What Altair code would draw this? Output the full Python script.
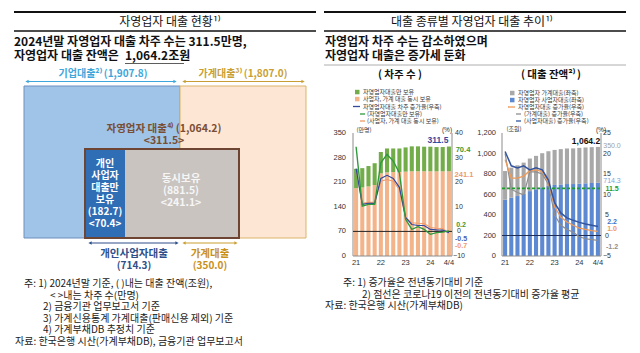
import altair as alt
import pandas as pd

FONT = "Noto Sans CJK KR"
NFONT = "Liberation Sans"

# ---------------- data ----------------
quarters = ["21Q1", "21Q2", "21Q3", "21Q4", "22Q1", "22Q2", "22Q3", "22Q4",
            "23Q1", "23Q2", "23Q3", "23Q4", "24Q1", "24Q2", "24Q3", "24Q4"]
x_tick_quarters = ["21Q1", "22Q1", "23Q1", "24Q1", "24Q4"]
x_tick_labels = ["21", "22", "23", "24", "4/4"]

# borrowers (만명)
borrowers_both = [193, 195, 198, 202, 235, 238, 239, 239, 240, 241, 241, 241, 241, 241, 241, 241.1]
borrowers_only = [55, 55, 58, 62, 61, 68, 67, 67, 69, 71, 71, 70, 70, 69, 69, 70.4]
# borrower growth (%, yoy)
g_borrowers_total = [25.5, 11.0, 11.4, 11.4, 21.5, 22.8, 21.5, 17.9, 5.7, 2.8, 2.4, 2.4, 0.8, 0.6, 0.5, -0.5]
g_borrowers_only = [34.4, 10.3, 11.0, 11.0, 27.9, 31.3, 28.6, 23.8, 4.9, 0.8, 1.9, 0.8, -1.2, -0.5, -0.3, 0.2]
g_borrowers_both = [25.0, 11.4, 11.8, 11.8, 20.4, 21.1, 20.4, 17.0, 5.5, 3.5, 3.3, 3.2, 1.6, 1.3, 1.2, -0.7]

# loans (조원)
loans_biz = [549, 570, 585, 605, 633, 651, 670, 684, 693, 698, 702, 702, 706, 709, 712, 714.3]
loans_hh = [280, 292, 300, 306, 318, 326, 333, 338, 342, 345, 347, 348, 349, 350, 350, 350.0]
g_loans_total = [18.5, 14.0, 14.0, 14.5, 15.8, 16.0, 15.6, 13.0, 7.0, 4.5, 3.3, 2.5, 1.8, 1.5, 1.2, 1.0]
g_loans_biz = [20.5, 17.0, 16.5, 17.0, 16.0, 16.5, 16.0, 13.5, 8.0, 5.5, 4.3, 3.7, 3.2, 2.8, 2.5, 2.2]
g_loans_hh = [20.0, 11.3, 10.5, 9.9, 15.5, 15.5, 15.0, 12.5, 5.0, 2.5, 1.5, 0.8, -0.3, -0.8, -1.0, -1.2]
pre_covid_avg = [11.5]

left_y_ticks = [0, 70, 140, 210, 280, 350]
left_y2_ticks = [-10, 0, 10, 20, 30, 40]
right_y_ticks = [0, 200, 400, 600, 800, 1000, 1200]
right_y2_ticks = [-5, 0, 5, 10, 15, 20, 25]

# ---------------- helpers ----------------
layers = []


def df1(**kw):
    return pd.DataFrame({k: [v] for k, v in kw.items()})


def text(s, x, y, size=10, color="#222222", weight="normal", align="left", font=FONT):
    layers.append(
        alt.Chart(df1(t=s)).mark_text(align=align, baseline="middle", fontSize=size,
                                      fontWeight=weight, color=color, font=font)
        .encode(x=alt.value(x), y=alt.value(y), text="t:N"))


def hrule(x1, x2, y, color="#000000", width=1.0, dash=None):
    kw = dict(color=color, strokeWidth=width)
    if dash:
        kw["strokeDash"] = dash
    layers.append(alt.Chart(df1(a=0)).mark_rule(**kw)
                  .encode(x=alt.value(x1), x2=alt.value(x2), y=alt.value(y)))


def vrule(x, y1, y2, color="#000000", width=1.0):
    layers.append(alt.Chart(df1(a=0)).mark_rule(color=color, strokeWidth=width)
                  .encode(x=alt.value(x), y=alt.value(y1), y2=alt.value(y2)))


def box(x1, x2, y1, y2, fill, stroke=None, sw=1.0, fill_opacity=1.0):
    kw = dict(fill=fill, fillOpacity=fill_opacity, strokeWidth=sw)
    if stroke:
        kw["stroke"] = stroke
    layers.append(alt.Chart(df1(a=0)).mark_rect(**kw)
                  .encode(x=alt.value(x1), x2=alt.value(x2), y=alt.value(y1), y2=alt.value(y2)))


def arrow(x1, x2, y, color):
    hrule(x1 + 2, x2 - 2, y, color, 1.2)
    for shape, xx in [("triangle-left", x1 + 2), ("triangle-right", x2 - 2)]:
        layers.append(alt.Chart(df1(a=0)).mark_point(shape=shape, filled=True, size=14,
                                                     color=color, opacity=1)
                      .encode(x=alt.value(xx), y=alt.value(y)))


def qx(rng):
    return alt.Scale(domain=[-0.5, 15.5], range=rng, nice=False, zero=False)


def qy(dom):
    return alt.Scale(domain=dom, range=[256, 133], nice=False, zero=False)


# ---------------- headers ----------------
for (a, b) in [(14, 316), (324, 626)]:
    hrule(a, b, 12, "#111111", 2)
    hrule(a, b, 31, "#111111", 1.3)
text("자영업자 대출 현황¹⁾", 170, 22, 12, "#111111", align="center")
text("대출 종류별 자영업자 대출 추이¹⁾", 472, 22, 12, "#111111", align="center")
text("2024년말 자영업자 대출 차주 수는 311.5만명,", 14, 42, 12, "#111111", "bold")
text("자영업자 대출 잔액은", 14, 56, 12, "#111111", "bold")
text("1,064.2조원", 125, 56, 12, "#111111", "bold")
hrule(125, 184, 63.5, "#333333", 0.8)
text("자영업자 차주 수는 감소하였으며", 325, 42, 12, "#111111", "bold")
text("자영업자 대출은 증가세 둔화", 325, 56, 12, "#111111", "bold")
hrule(324, 626, 65, "#9a9a9a", 0.8)

# ---------------- left diagram ----------------
text("기업대출²⁾ (1,907.8)", 103, 74, 10, "#3ea6da", "bold", "center")
text("가계대출³⁾ (1,807.0)", 243, 74, 10, "#c99f35", "bold", "center")
arrow(25, 177, 81.5, "#3ea6da")
arrow(182, 305, 81.5, "#c99f35")
box(24, 180, 86, 238, "#9fc4e8", "#6d8fbd", 1)
box(180, 306, 86, 238, "#fde6d3", "#dcb36a", 1)
box(85, 125, 149, 238, "#2f6db5")
box(125, 239, 149, 238, "#c9c4c0")
box(85, 239, 149, 238, "#ffffff", "#6e4533", 2, 0)
text("자영업자 대출⁴⁾ (1,064.2)", 164, 128.5, 10.5, "#7a4e35", "bold", "center")
text("<311.5>", 164, 141, 10.5, "#7a4e35", "bold", "center")
for s, yy in [("개인", 164), ("사업자", 176), ("대출만", 188), ("보유", 199.5),
              ("(182.7)", 211.5), ("<70.4>", 223.5)]:
    text(s, 105, yy, 10, "#ffffff", "bold", "center")
for s, yy in [("동시보유", 179), ("(881.5)", 191), ("<241.1>", 203)]:
    text(s, 181, yy, 10.5, "#f6f6f6", "bold", "center")
arrow(88, 179, 243, "#2f4f8a")
arrow(182, 238, 243, "#c99f35")
text("개인사업자대출", 134, 253.5, 10.5, "#2f4f8a", "bold", "center")
text("(714.3)", 134, 266, 10, "#2f4f8a", "bold", "center")
text("가계대출", 210, 253.5, 10.5, "#c9901a", "bold", "center")
text("(350.0)", 210, 266, 10, "#c9901a", "bold", "center")

# notes left
NC = "#222222"
NS = 10
text("주: 1) 2024년말 기준, (    )내는 대출 잔액(조원),", 24, 284, NS, NC)
text("< >내는 차주 수(만명)", 50, 295.5, NS, NC)
text("2) 금융기관 업무보고서 기준", 43, 307, NS, NC)
text("3) 가계신용통계 가계대출(판매신용 제외) 기준", 43, 318.5, NS, NC)
text("4) 가계부채DB 추정치 기준", 43, 330, NS, NC)
text("자료: 한국은행 시산(가계부채DB), 금융기관 업무보고서", 15, 341.5, NS, NC)

# notes right
text("주: 1) 증가율은 전년동기대비 기준", 343, 283, NS, NC)
text("2) 점선은 코로나19 이전의 전년동기대비 증가율 평균", 362, 294.5, NS, NC)
text("자료: 한국은행 시산(가계부채DB)", 325, 306, NS, NC)

# sub headers
text("( 차주 수 )", 400, 75, 10.5, "#111111", "bold", "center")
text("( 대출 잔액²⁾ )", 551, 75, 10.5, "#111111", "bold", "center")

# ---------------- left time series (borrowers) ----------------
LX = [353, 452]
C_GREEN_BAR, C_ORANGE_BAR = "#72ad4a", "#f4b48a"
C_GREEN_LINE, C_BLUE_LINE, C_ORANGE_LINE = "#2f9a3c", "#34489c", "#ee9a6a"
LS = 6

# legend
box(355, 359.5, 89.8, 94.3, C_GREEN_BAR)
text("자영업자대출만 보유", 363, 92, LS, "#333333")
box(355, 359.5, 96.8, 101.3, C_ORANGE_BAR)
text("사업자, 가계 대출 동시 보유", 363, 99, LS, "#333333")
hrule(353, 360, 106.5, C_BLUE_LINE, 1.3)
text("자영업자대출 차주 증가율(우축)", 363, 106.5, LS, "#333333")
hrule(360, 365, 114, C_GREEN_LINE, 1.3)
text("(자영업자대출만 보유)", 367, 114, LS, "#333333")
hrule(360, 365, 121, C_ORANGE_LINE, 1.3)
text("(사업자, 가계 대출 동시 보유)", 367, 121, LS, "#333333")
text("(만명)", 364, 129.5, LS, "#333333", align="center")
text("(%)", 447, 129.5, 6.5, "#333333", align="center", font=NFONT)

dfL = pd.DataFrame({"i": list(range(16)), "q": quarters, "both": borrowers_both,
                    "only": borrowers_only, "g_tot": g_borrowers_total,
                    "g_only": g_borrowers_only, "g_both": g_borrowers_both})
barsL = alt.Chart(dfL).transform_calculate(
    x0="datum.i - 0.33", x1="datum.i + 0.33", z="0", tot="datum.both + datum.only")
layers.append(barsL.mark_rect(color=C_ORANGE_BAR).encode(
    x=alt.X("x0:Q", scale=qx(LX), axis=None), x2="x1:Q",
    y=alt.Y("z:Q", scale=qy([0, 350]), axis=None), y2="both:Q"))
layers.append(barsL.mark_rect(color=C_GREEN_BAR).encode(
    x=alt.X("x0:Q", scale=qx(LX), axis=None), x2="x1:Q",
    y=alt.Y("both:Q", scale=qy([0, 350]), axis=None), y2="tot:Q"))

# axes
vrule(353, 133, 256, "#8c8c8c", 1)
vrule(452, 133, 256, "#8c8c8c", 1)
hrule(353, 452, 256, "#8c8c8c", 1)
layers.append(alt.Chart(pd.DataFrame({"v": [0]})).mark_rule(color="#222222", strokeWidth=1).encode(
    y=alt.Y("v:Q", scale=qy([-10, 40]), axis=None), x=alt.value(353), x2=alt.value(452)))
for col, colr, sw in [("g_both", C_ORANGE_LINE, 1.1), ("g_tot", C_BLUE_LINE, 1.2),
                      ("g_only", C_GREEN_LINE, 1.4)]:
    layers.append(alt.Chart(dfL).mark_line(color=colr, strokeWidth=sw).encode(
        x=alt.X("i:Q", scale=qx(LX), axis=None),
        y=alt.Y(f"{col}:Q", scale=qy([-10, 40]), axis=None)))

dfTick = pd.DataFrame({"i": [quarters.index(q) for q in x_tick_quarters], "t": x_tick_labels})
layers.append(alt.Chart(dfTick).mark_text(fontSize=7.5, font=NFONT, color="#333333", baseline="middle").encode(
    x=alt.X("i:Q", scale=qx(LX), axis=None), y=alt.value(263), text="t:N"))
layers.append(alt.Chart(pd.DataFrame({"v": left_y_ticks})).mark_text(
    fontSize=7.5, font=NFONT, color="#333333", align="right", baseline="middle").encode(
    x=alt.value(346), y=alt.Y("v:Q", scale=qy([0, 350]), axis=None), text="v:Q"))
layers.append(alt.Chart(pd.DataFrame({"v": left_y2_ticks})).mark_text(
    fontSize=7, font=NFONT, color="#333333", align="center", baseline="middle").encode(
    x=alt.value(459), y=alt.Y("v:Q", scale=qy([-10, 40]), axis=None), text="v:Q"))

text("311.5", 438, 140, 8.5, "#34489c", "bold", "center", NFONT)
text("70.4", 463, 149.5, 7.5, "#3a9a3a", "bold", "center", NFONT)
text("241.1", 464, 175, 7.5, "#ee9a6a", "bold", "center", NFONT)
text("0.2", 461, 224.5, 7, "#3a9a3a", "bold", "center", NFONT)
text("-0.5", 461, 239, 7, "#4a5fb0", "bold", "center", NFONT)
text("-0.7", 461, 246, 7, "#ee9a6a", "bold", "center", NFONT)

# ---------------- right time series (loans) ----------------
RX = [502, 601]
C_GRAY_BAR, C_BLUE_BAR = "#a8a8a8", "#5d88d2"
C_TOT, C_HH, C_BIZ = "#ee9a58", "#8e8e8e", "#34559e"

box(510, 514.5, 90.8, 95.3, C_GRAY_BAR)
text("자영업자 가계대출(좌축)", 518, 93, LS, "#333333")
box(510, 514.5, 97.8, 102.3, C_BLUE_BAR)
text("자영업자 사업자대출(좌축)", 518, 100, LS, "#333333")
hrule(508, 515, 107, C_TOT, 1.3)
text("자영업자대출 증가율(우축)", 518, 107, LS, "#333333")
hrule(516, 521, 114, C_HH, 1.3)
text("(가계대출) 증가율(우축)", 524, 114, LS, "#333333")
hrule(516, 521, 121, C_BIZ, 1.3)
text("(사업자대출) 증가율(우축)", 524, 121, LS, "#333333")
text("(조원)", 514, 129, LS, "#333333", align="center")
text("(%)", 601, 129.5, 6.5, "#333333", align="center", font=NFONT)

dfR = pd.DataFrame({"i": list(range(16)), "q": quarters, "biz": loans_biz, "hh": loans_hh,
                    "g_tot": g_loans_total, "g_biz": g_loans_biz, "g_hh": g_loans_hh})
barsR = alt.Chart(dfR).transform_calculate(
    x0="datum.i - 0.33", x1="datum.i + 0.33", z="0", tot="datum.biz + datum.hh")
layers.append(barsR.mark_rect(color=C_BLUE_BAR).encode(
    x=alt.X("x0:Q", scale=qx(RX), axis=None), x2="x1:Q",
    y=alt.Y("z:Q", scale=qy([0, 1200]), axis=None), y2="biz:Q"))
layers.append(barsR.mark_rect(color=C_GRAY_BAR).encode(
    x=alt.X("x0:Q", scale=qx(RX), axis=None), x2="x1:Q",
    y=alt.Y("biz:Q", scale=qy([0, 1200]), axis=None), y2="tot:Q"))

vrule(502, 133, 256, "#8c8c8c", 1)
vrule(601, 133, 256, "#8c8c8c", 1)
hrule(502, 601, 256, "#8c8c8c", 1)
layers.append(alt.Chart(pd.DataFrame({"v": [0]})).mark_rule(color="#1f2f5a", strokeWidth=1.2).encode(
    y=alt.Y("v:Q", scale=qy([-5, 25]), axis=None), x=alt.value(502), x2=alt.value(601)))
layers.append(alt.Chart(pd.DataFrame({"v": pre_covid_avg})).mark_rule(
    color="#1e9e2a", strokeWidth=1.6, strokeDash=[3, 2]).encode(
    y=alt.Y("v:Q", scale=qy([-5, 25]), axis=None), x=alt.value(502), x2=alt.value(601)))
for col, colr, sw in [("g_hh", C_HH, 1.2), ("g_tot", C_TOT, 1.3), ("g_biz", C_BIZ, 1.5)]:
    layers.append(alt.Chart(dfR).mark_line(color=colr, strokeWidth=sw).encode(
        x=alt.X("i:Q", scale=qx(RX), axis=None),
        y=alt.Y(f"{col}:Q", scale=qy([-5, 25]), axis=None)))

layers.append(alt.Chart(dfTick).mark_text(fontSize=7.5, font=NFONT, color="#333333", baseline="middle").encode(
    x=alt.X("i:Q", scale=qx(RX), axis=None), y=alt.value(263), text="t:N"))
layers.append(alt.Chart(pd.DataFrame({"v": right_y_ticks})).mark_text(
    fontSize=7.5, font=NFONT, color="#333333", align="right", baseline="middle").encode(
    x=alt.value(496), y=alt.Y("v:Q", scale=qy([0, 1200]), axis=None),
    text=alt.Text("v:Q", format=",")))
layers.append(alt.Chart(pd.DataFrame({"v": right_y2_ticks})).mark_text(
    fontSize=7, font=NFONT, color="#333333", align="center", baseline="middle").encode(
    x=alt.value(607), y=alt.Y("v:Q", scale=qy([-5, 25]), axis=None), text="v:Q"))

text("1,064.2", 586, 141, 8.5, "#111111", "bold", "center", NFONT)
text("350.0", 612, 145.5, 7, "#a0a0a0", "normal", "center", NFONT)
text("714.3", 612, 181, 7, "#7fa3dc", "normal", "center", NFONT)
text("11.5", 612, 188.5, 7, "#1e9e2a", "bold", "center", NFONT)
text("2.2", 612, 221.5, 7, "#4a6fc0", "bold", "center", NFONT)
text("1.0", 612, 228.5, 7, "#ee9a58", "bold", "center", NFONT)
text("-1.2", 612, 246.5, 7, "#8e8e8e", "bold", "center", NFONT)

chart = alt.layer(*layers).resolve_scale(x="independent", y="independent").properties(
    width=640, height=353, padding=0, background="#ffffff",
    autosize=alt.AutoSizeParams(type="none")
).configure_view(stroke=None)

chart.save("out.html", embed_options={"renderer": "svg", "actions": False})
